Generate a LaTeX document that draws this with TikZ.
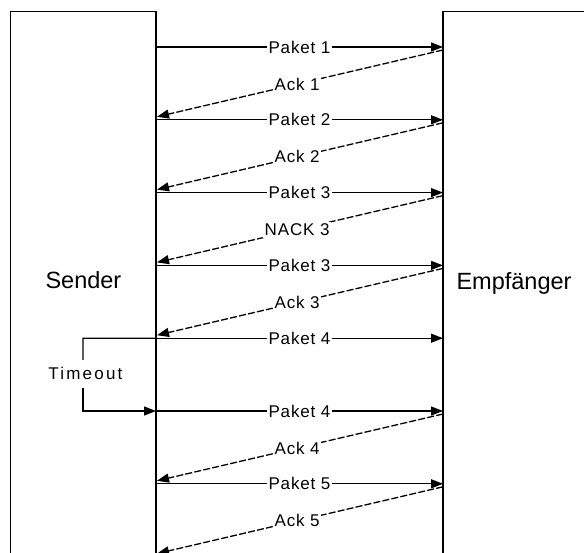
\documentclass[tikz,border=0pt]{standalone}
\usepackage{fontspec}
\setmainfont{Liberation Sans}
\usetikzlibrary{arrows.meta}
\begin{document}
\begin{tikzpicture}[x=1pt,y=-1pt,line width=1.3pt,
  tipped/.style={-{Triangle[length=12pt,width=9pt]}},
  msg/.style={tipped},
  ack/.style={tipped,dash pattern=on 7pt off 2.2pt},
  lbl/.style={font=\fontsize{17}{19}\selectfont\addfontfeatures{LetterSpace=5},
    fill=white,inner sep=1.8pt,text height=12.2pt,text depth=0pt},
  tlbl/.style={font=\fontsize{17}{19}\selectfont\addfontfeatures{LetterSpace=13},
    inner sep=0pt,text height=12.2pt,text depth=0pt},
  big/.style={font=\fontsize{23.5}{26}\selectfont,inner sep=0pt,anchor=base}]
\path[use as bounding box] (0,0) rectangle (584,553);
\clip (0,0) rectangle (584,553);
% boxes
\draw (10.5,11.5) rectangle (156,580);
\draw (443,11.5) rectangle (620,580);
\node[big] (sender) at (83.4,289) {Sender};
\node[big] (empf) at (514,290) {Empfänger};
% lifeline points
\foreach \i in {1,...,8}{
  \coordinate (s\i) at (156,{47+72.8*(\i-1)});
  \coordinate (r\i) at (443,{47+72.8*(\i-1)});
  \coordinate (ra\i) at (443,{47+72.8*(\i-1)+3});
  \coordinate (sa\i) at (157,{47+72.8*(\i-1)-3});
}
% packets
\foreach \i/\t in {1/Paket 1,2/Paket 2,3/Paket 3,4/Paket 3,5/Paket 4,6/Paket 4,7/Paket 5}{
  \draw[msg] (s\i) -- node[lbl,pos=0.5] (p\i) {\t} (r\i);
}
% acks
\foreach \i/\j/\t in {1/2/Ack 1,2/3/Ack 2,3/4/NACK 3,4/5/Ack 3,6/7/Ack 4,7/8/Ack 5}{
  \draw[ack] (ra\i) -- node[lbl,pos=0.51] (a\i) {\t} (sa\j);
}
% timeout
\node[tlbl] (to) at (85.4,373.4) {Timeout};
\coordinate (ta) at (83,338.2);
\coordinate (tb) at (83,360);
\coordinate (tc) at (83,388);
\coordinate (td) at (83,411);
\draw (s5) -- (ta) -- (tb);
\draw[msg] (tc) -- (td) -- (s6);
\end{tikzpicture}
\end{document}
